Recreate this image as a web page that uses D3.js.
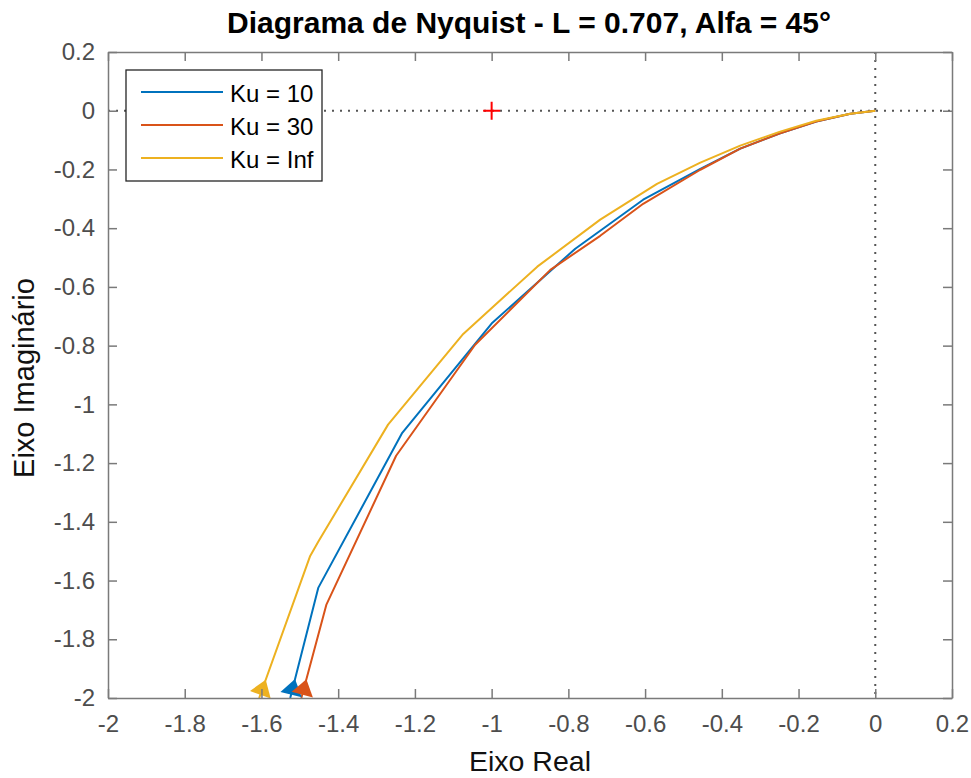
<!DOCTYPE html>
<html><head><meta charset="utf-8">
<script src="https://cdn.jsdelivr.net/npm/d3@7"></script>
<style>
body{margin:0;background:#fff;}
text{font-family:"Liberation Sans",Arial,Helvetica,sans-serif;}
</style>
</head><body>
<svg id="chart" width="971" height="778"></svg>
<script>
// ---- data ----
const seriesNames = ["Ku = 10", "Ku = 30", "Ku = Inf"];
const seriesColors = ["#0072BD", "#D95319", "#EDB120"];

const ku10Re = [-1.525, -1.452, -1.233, -0.998, -0.782, -0.605, -0.456, -0.352, -0.250, -0.154, -0.065, 0];
const ku10Im = [-2.000, -1.625, -1.097, -0.722, -0.470, -0.303, -0.198, -0.129, -0.078, -0.037, -0.010, 0];

const ku30Re = [-1.496, -1.431, -1.249, -1.043, -0.847, -0.717, -0.605, -0.456, -0.352, -0.250, -0.154, -0.065, 0];
const ku30Im = [-2.000, -1.683, -1.175, -0.797, -0.542, -0.426, -0.317, -0.201, -0.129, -0.078, -0.037, -0.010, 0];

const kuInfRe = [-1.606, -1.473, -1.452, -1.270, -1.074, -0.881, -0.717, -0.569, -0.456, -0.352, -0.250, -0.154, -0.065, 0];
const kuInfIm = [-2.000, -1.516, -1.468, -1.069, -0.760, -0.531, -0.371, -0.249, -0.177, -0.119, -0.072, -0.034, -0.010, 0];

const criticalPoint = [-1, 0];

const xTicks = [-2, -1.8, -1.6, -1.4, -1.2, -1, -0.8, -0.6, -0.4, -0.2, 0, 0.2];
const yTicks = [0.2, 0, -0.2, -0.4, -0.6, -0.8, -1, -1.2, -1.4, -1.6, -1.8, -2];
const xDomain = [-2, 0.2];
const yDomain = [-2, 0.2];

const titleText = "Diagrama de Nyquist - L = 0.707, Alfa = 45°";
const xLabelText = "Eixo Real";
const yLabelText = "Eixo Imaginário";

// ---- layout ----
const L = 108, R = 952, T = 52, B = 698;
const svg = d3.select("#chart");
const x = d3.scaleLinear().domain(xDomain).range([L, R]);
const y = d3.scaleLinear().domain(yDomain).range([B, T]);
const fmt = v => String(+v.toFixed(1));
const axisCol = "#7a7a7a", tickTextCol = "#4d4d4d";

svg.append("defs").append("clipPath").attr("id", "clip")
  .append("rect").attr("x", L).attr("y", T).attr("width", R - L).attr("height", B - T);

// dotted zero lines
svg.append("line").attr("x1", L).attr("x2", R).attr("y1", y(0)).attr("y2", y(0))
  .attr("stroke", "#555").attr("stroke-width", 2).attr("stroke-dasharray", "2,6");
svg.append("line").attr("x1", x(0)).attr("x2", x(0)).attr("y1", T).attr("y2", B)
  .attr("stroke", "#555").attr("stroke-width", 2).attr("stroke-dasharray", "2,6");

// curves
const series = [
  ku10Re.map((v, i) => [v, ku10Im[i]]),
  ku30Re.map((v, i) => [v, ku30Im[i]]),
  kuInfRe.map((v, i) => [v, kuInfIm[i]])
];
const line = d3.line().x(d => x(d[0])).y(d => y(d[1]));
const gCurves = svg.append("g").attr("clip-path", "url(#clip)");
series.forEach((s, k) => {
  gCurves.append("path").attr("d", line(s)).attr("fill", "none")
    .attr("stroke", seriesColors[k]).attr("stroke-width", 2).attr("stroke-linejoin", "round");
});
// arrows
series.forEach((s, k) => {
  const p0 = [x(s[0][0]), y(s[0][1])], p1 = [x(s[1][0]), y(s[1][1])];
  const dx = p1[0] - p0[0], dy = p1[1] - p0[1], len = Math.hypot(dx, dy);
  const u = [dx / len, dy / len], n = [-u[1], u[0]];
  const base = [p0[0] + 3.5 * u[0], p0[1] + 3.5 * u[1]];
  const tip = [base[0] + 16 * u[0], base[1] + 16 * u[1]];
  const a = [base[0] + 11 * n[0], base[1] + 11 * n[1]];
  const b = [base[0] - 11 * n[0], base[1] - 11 * n[1]];
  svg.append("path").attr("d", `M${tip}L${a}L${b}Z`).attr("fill", seriesColors[k]);
});

// critical point marker
const cp = [x(criticalPoint[0]), y(criticalPoint[1])];
svg.append("path").attr("d", `M${cp[0] - 8.5},${cp[1]}H${cp[0] + 8.5}M${cp[0]},${cp[1] - 9}V${cp[1] + 9}`)
  .attr("stroke", "#ff0000").attr("stroke-width", 2);

// axes
function styleAxis(g) {
  g.selectAll("path.domain").attr("stroke", axisCol).attr("stroke-width", 1.5);
  g.selectAll(".tick line").attr("stroke", axisCol).attr("stroke-width", 1.5);
  g.selectAll(".tick text").attr("fill", tickTextCol).attr("font-size", 24)
    .attr("font-family", '"Liberation Sans", Arial, sans-serif');
}
svg.append("g").attr("transform", `translate(0,${B})`)
  .call(d3.axisBottom(x).tickValues(xTicks).tickFormat(fmt).tickSizeInner(-9).tickSizeOuter(0).tickPadding(17))
  .call(styleAxis);
svg.append("g").attr("transform", `translate(0,${T})`)
  .call(d3.axisTop(x).tickValues(xTicks).tickFormat("").tickSizeInner(-9).tickSizeOuter(0))
  .call(styleAxis);
svg.append("g").attr("transform", `translate(${L},0)`)
  .call(d3.axisLeft(y).tickValues(yTicks).tickFormat(fmt).tickSizeInner(-9).tickSizeOuter(0).tickPadding(13))
  .call(styleAxis);
svg.append("g").attr("transform", `translate(${R},0)`)
  .call(d3.axisRight(y).tickValues(yTicks).tickFormat("").tickSizeInner(-9).tickSizeOuter(0))
  .call(styleAxis);

// labels
svg.append("text").attr("x", 529).attr("y", 33).attr("text-anchor", "middle")
  .attr("font-size", 30).attr("font-weight", "bold").attr("fill", "#000").text(titleText);
svg.append("text").attr("x", 530).attr("y", 771).attr("text-anchor", "middle")
  .attr("font-size", 28.5).attr("fill", "#111").text(xLabelText);
svg.append("text").attr("transform", "translate(34,378) rotate(-90)").attr("text-anchor", "middle")
  .attr("font-size", 29).attr("fill", "#111").text(yLabelText);

// legend
const lg = svg.append("g");
lg.append("rect").attr("x", 126).attr("y", 70).attr("width", 196).attr("height", 111)
  .attr("fill", "#fff").attr("stroke", "#262626").attr("stroke-width", 1.3);
seriesNames.forEach((name, i) => {
  const ly = 92 + i * 33;
  lg.append("line").attr("x1", 141).attr("x2", 223).attr("y1", ly).attr("y2", ly)
    .attr("stroke", seriesColors[i]).attr("stroke-width", 2);
  lg.append("text").attr("x", 230).attr("y", ly + 10).attr("font-size", 24)
    .attr("fill", "#000").text(name);
});
</script>
</body></html>
